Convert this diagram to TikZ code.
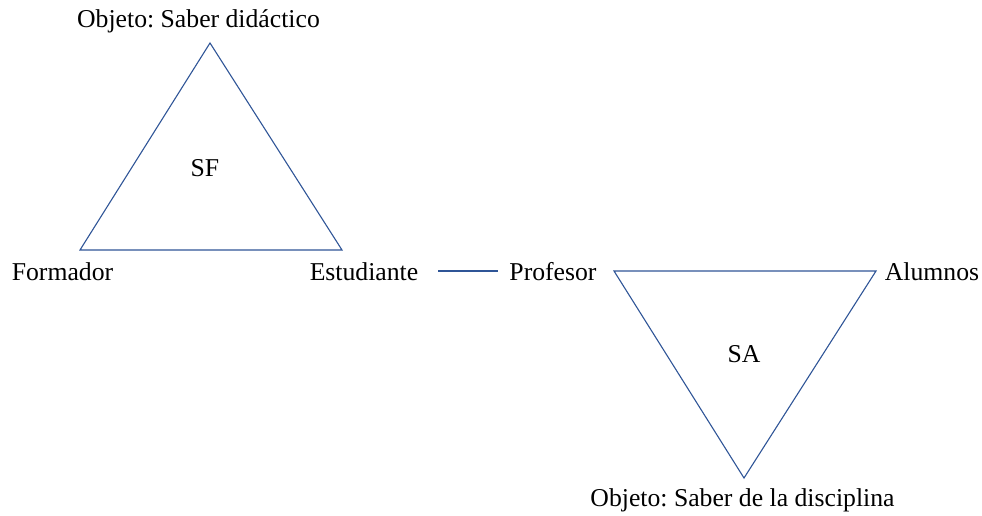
\documentclass[tikz,border=0pt]{standalone}
\usepackage{fontspec}
\setmainfont{Liberation Serif}
\definecolor{lineblue}{HTML}{2F5597}
\frenchspacing
\begin{document}
\begin{tikzpicture}[x=1pt,y=-1pt,
  lbl/.style={anchor=base,inner sep=0pt,font=\fontsize{25.7pt}{30pt}\selectfont},
  tri/.style={draw=lineblue,line width=1.1pt,line join=miter},
  conn/.style={draw=lineblue,line width=1.1pt}]
\useasboundingbox (0,0) rectangle (982,516);
% triangle SF
\coordinate (a1) at (210,43);
\coordinate (a2) at (80,250);
\coordinate (a3) at (342,250);
\draw[tri] (a1) -- (a2) -- (a3) -- cycle;
% triangle SA
\coordinate (b1) at (614,271);
\coordinate (b2) at (876,271);
\coordinate (b3) at (744,478);
\draw[tri] (b1) -- (b2) -- (b3) -- cycle;
% labels
\node[lbl] (obj1) at (198.5,28) {Objeto: Saber didáctico};
\node[lbl] (sf) at (205,176) {SF};
\node[lbl] (form) at (62.5,280) {Formador};
\node[lbl] (est) at (364,280) {Estudiante};
\node[lbl] (prof) at (553,280) {Profesor};
\node[lbl] (alum) at (932,280) {Alumnos};
\node[lbl] (sa) at (744,362) {SA};
\node[lbl] (obj2) at (742.5,506) {Objeto: Saber de la disciplina};
% connector
\coordinate (c1) at (438,271);
\coordinate (c2) at (498,271);
\draw[conn] (c1) -- (c2);
\end{tikzpicture}
\end{document}
